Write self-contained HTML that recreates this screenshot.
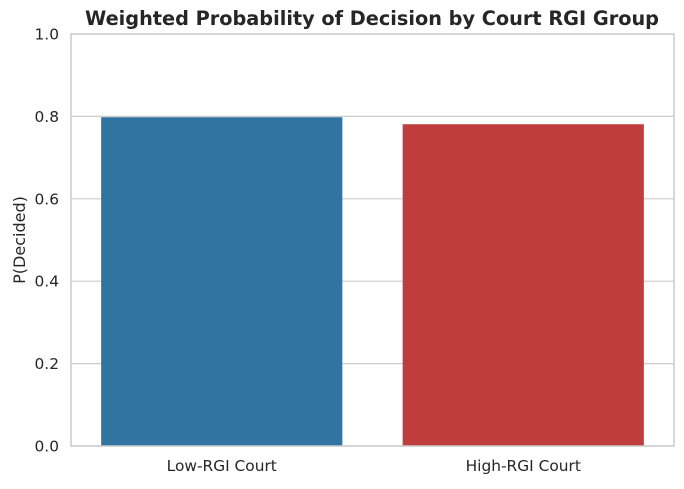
<!DOCTYPE html>
<html><head><meta charset="utf-8"><style>
body{margin:0;background:#fff;font-family:"Liberation Sans","DejaVu Sans",sans-serif}
svg text{font-family:"DejaVu Sans","Liberation Sans",sans-serif;fill:#262626}
</style></head><body>
<svg id="chart" width="684" height="484" xmlns="http://www.w3.org/2000/svg">
<text x="372" y="25" text-anchor="middle" font-size="19.3" font-weight="bold">Weighted Probability of Decision by Court RGI Group</text>
<g id="grid"></g><g id="bars"></g><g id="axes"></g>
<text transform="translate(25,240) rotate(-90)" text-anchor="middle" font-size="16">P(Decided)</text>
</svg>
<script>
const categories=["Low-RGI Court","High-RGI Court"];
const values=[0.798,0.781];
const colors=["#3274a1","#c03d3e"];
const yTicks=[0,0.2,0.4,0.6,0.8,1.0];
const yTickLabels=["0.0","0.2","0.4","0.6","0.8","1.0"];
const L=71,R=674,T=34,B=446;
const ns="http://www.w3.org/2000/svg";
const y=v=>B-(B-T)*v;
const band=(R-L)/categories.length;
const x=i=>L+band*i+band/2;
function mk(t,a,p){const e=document.createElementNS(ns,t);for(const k in a)e.setAttribute(k,a[k]);p.appendChild(e);return e;}
const g=document.getElementById('grid'),b=document.getElementById('bars'),ax=document.getElementById('axes');
yTicks.forEach((t,i)=>{
 const l=mk('line',{x1:L,x2:R,y1:y(t),y2:y(t),stroke:'#cccccc','stroke-width':1.2},g);
 
 
 const tx=mk('text',{x:L-12,y:y(t)+5.5,'text-anchor':'end','font-size':15.4},ax);
 tx.textContent=yTickLabels[i];
 
 
});
categories.forEach((c,i)=>{
 const w=band*0.8;
 const r=mk('rect',{x:x(i)-w/2,y:y(values[i]),width:w,height:B-y(values[i]),fill:colors[i]},b);
 
 
 const tx=mk('text',{x:x(i),y:B+25,'text-anchor':'middle','font-size':15.4},ax);
 tx.textContent=c;
 
 
});
const f=mk('rect',{x:L,y:T,width:R-L,height:B-T,fill:'none',stroke:'#cccccc','stroke-width':1.5},ax);


</script>
</body></html>
